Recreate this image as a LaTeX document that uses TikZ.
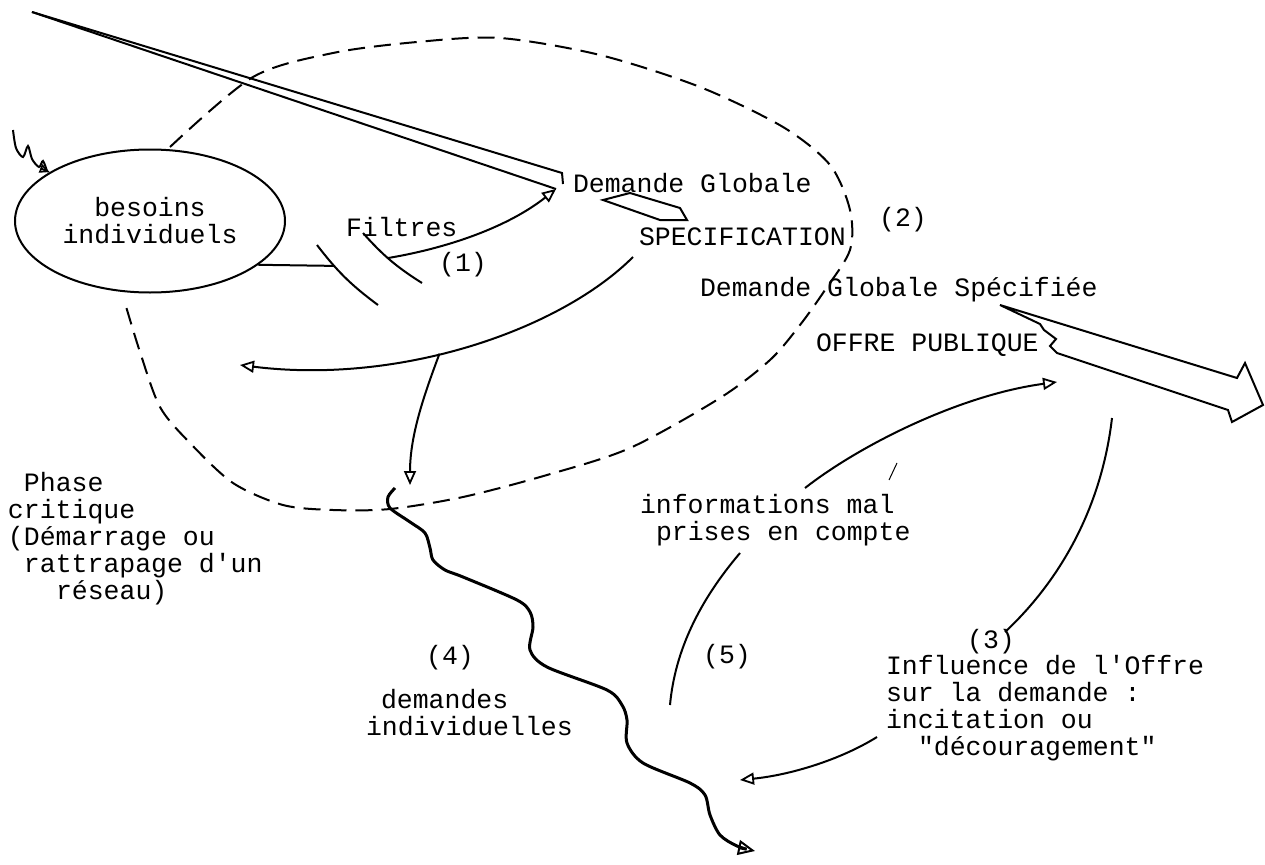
\documentclass[tikz,border=0pt]{standalone}
\usepackage{fontspec}
\setmainfont{Liberation Mono}
\usetikzlibrary{arrows.meta,shapes.geometric}
\begin{document}
\begin{tikzpicture}[x=1pt,y=-1pt,line width=2pt,
  every node/.style={font=\fontsize{26.5}{27}\selectfont,inner sep=0pt},
  flow/.style={-{Triangle[open,length=14pt,width=12pt,line width=1.8pt]}},
  ring/.style={dash pattern=on 17pt off 9pt},
  wavy/.style={line width=3pt,-{Triangle[open,length=17pt,width=15pt,line width=2pt]}}]
\useasboundingbox (0,0) rectangle (1265,864);
\node[draw,ellipse,minimum width=270,minimum height=143,align=center] (besoins) at (150,221) {besoins\\individuels};
\node[anchor=west] (filtres) at (345,227) {Filtres};
\node (one) at (463,265) {(1)};
\node[anchor=west] (dglobale) at (572,183) {Demande Globale};
\node[anchor=west] (spec) at (638,237) {SPECIFICATION};
\node (two) at (903,220) {(2)};
\node[anchor=west] (dgspec) at (699,290) {Demande Globale Spécifiée};
\node[anchor=west] (offre) at (815,345) {OFFRE PUBLIQUE};
\node[anchor=west,align=left] (phase) at (7,539) {\hspace*{16pt}Phase\\critique\\(Démarrage ou\\\hspace*{16pt}rattrapage d\textquotesingle un\\\hspace*{48pt}réseau)};
\node[anchor=west,align=left] (infos) at (639,520) {informations mal\\\hspace*{16pt}prises en compte};
\node (five) at (727,657) {(5)};
\node (four) at (450,658) {(4)};
\node[anchor=west,align=left] (demindiv) at (365,713) {\hspace*{15pt}demandes\\individuelles};
\node (three) at (991,642) {(3)};
\node[anchor=west,align=left] (influence) at (885,708) {Influence de l\textquotesingle Offre\\sur la demande :\\incitation ou\\\hspace*{32pt}\textquotedbl découragement\textquotedbl};
\coordinate (top) at (32,12);
\coordinate (wedgeA) at (562,173);
\coordinate (wedgeB) at (556,189);
\coordinate (fA1) at (317,245);
\coordinate (fA2) at (378,305);
\coordinate (fB1) at (363,233);
\coordinate (fB2) at (422,283);
\coordinate (specout) at (633,257);
\coordinate (back) at (240,365);
\coordinate (down) at (410,485);
\draw (top) -- (wedgeA) -- ++(1,11);
\draw (top) -- (wedgeB);
\draw (fA1) to[bend right=8] coordinate[pos=0.3] (fA) (fA2);
\draw (fB1) to[bend right=8] coordinate[pos=0.45] (fB) (fB2);
\draw (besoins.-22) -- (fA);
\draw[flow] (fB) .. controls +(60,-10) and +(-48,38) .. (wedgeB);
\draw (603,200) -- (630,193) -- (680,208) -- (687,220) -- (660,220) -- cycle;
\draw[flow] (specout) .. controls (560,330) and (400,385) .. coordinate[pos=0.57] (split) (back);
\draw[flow] (split) .. controls +(-15,40) and +(0,-50) .. (down);
\draw[ring] plot[smooth] coordinates {(170,147) (253,77) (333,53) (417,42) (500,38) (600,55) (700,87) (783,127) (830,165) (850,210) (850,250) (825,290) (800,325) (770,360) (720,398) (630,448) (547,475) (463,497) (390,509) (333,510) (283,505) (233,483) (190,443) (160,407) (140,352) (125,303)};
\draw[wavy] plot[smooth] coordinates {(395,488) (388,497) (390,508) (410,522) (425,533) (430,548) (433,560) (445,570) (463,577) (517,600) (530,612) (533,627) (530,650) (547,667) (607,690) (622,705) (627,720) (627,743) (643,763) (690,783) (705,795) (710,815) (720,835) (737,846) (755,851)};
\draw[-{Triangle[open,length=10pt,width=9pt,line width=1.6pt]}] plot[smooth] coordinates {(13,130) (16,148) (23,157) (28,146) (32,159) (39,167) (43,161) (47,171)} -- (besoins.154);
\draw (670,705) .. controls (675,650) and (700,600) .. (740,553);
\draw[flow] (805,488) .. controls (860,445) and (960,395) .. (1057,382);
\draw (1112,418) .. controls (1100,520) and (1050,590) .. (1005,632);
\draw[flow] (877,737) .. controls (840,760) and (790,775) .. (740,780);
\draw[line width=1pt] (897,463) -- (889,480);
\draw (1000,305) -- (1237,378) -- (1245,363) -- (1263,405) -- (1232,422) -- (1228,410) -- (1057,353) -- (1050,346) -- (1056,339) -- (1044,330) -- (1040,324) -- cycle;
\end{tikzpicture}
\end{document}
